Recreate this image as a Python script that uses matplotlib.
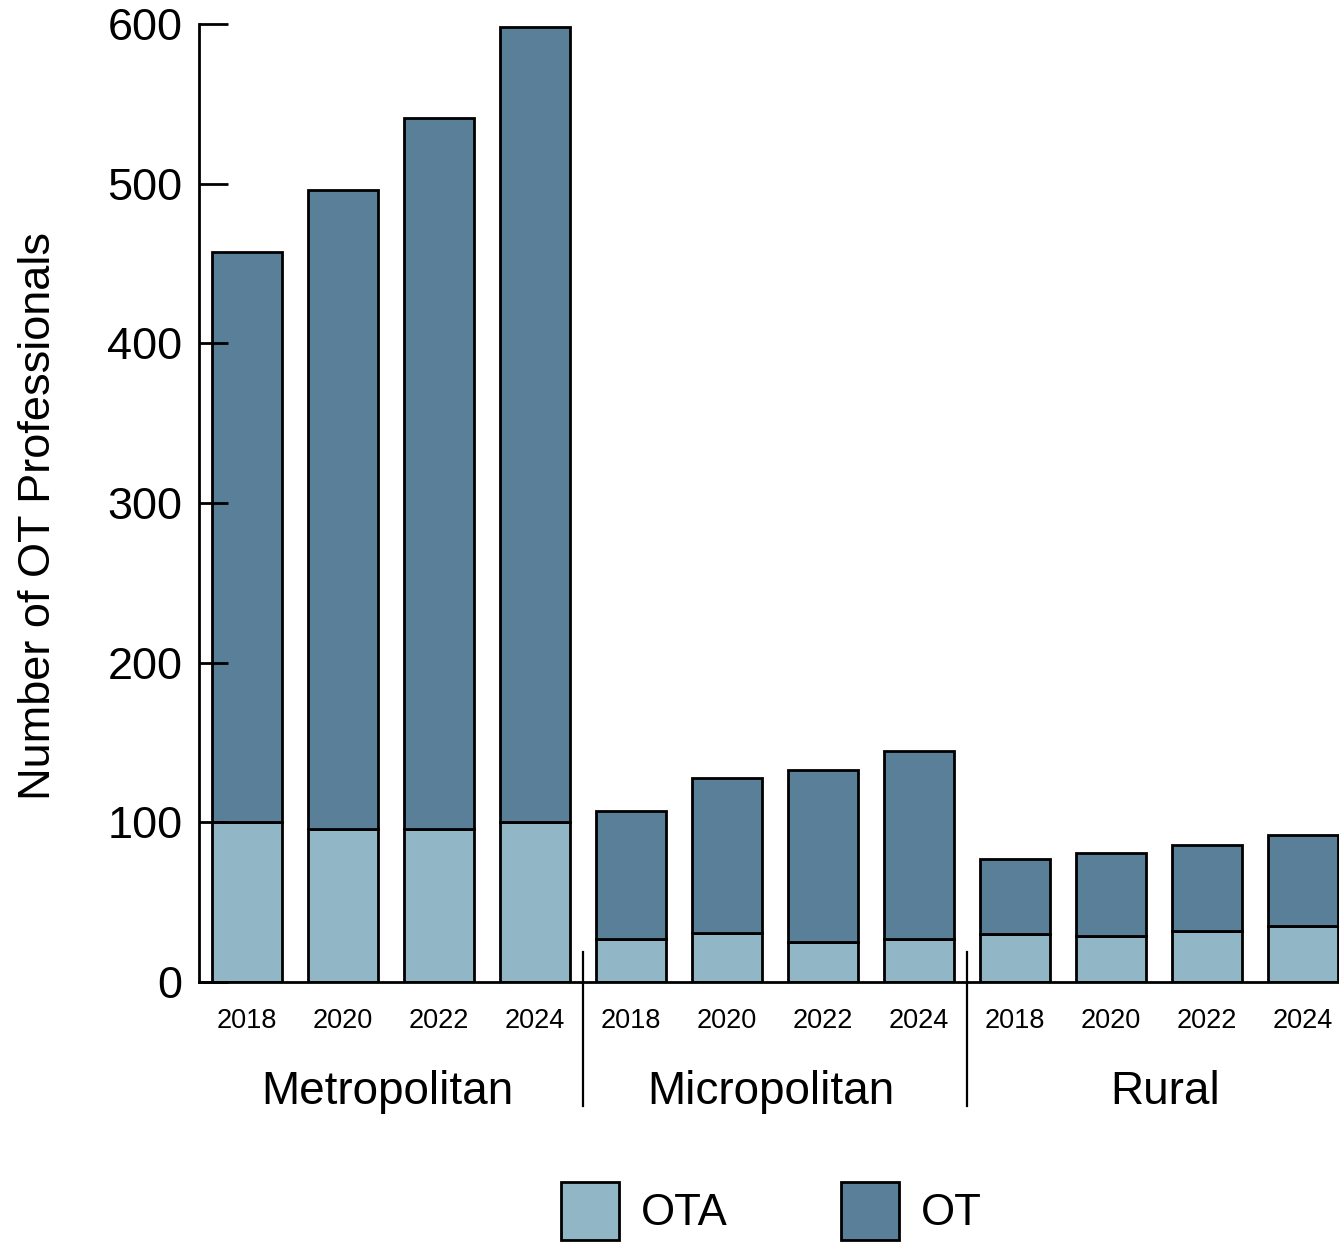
import numpy as np
import matplotlib
matplotlib.use("Agg")
import matplotlib.pyplot as plt
from matplotlib.patches import Patch

plt.rcParams['font.family'] = ['Liberation Sans', 'DejaVu Sans']

# Data
regions = ['Metropolitan', 'Micropolitan', 'Rural']
years = ['2018', '2020', '2022', '2024']
ota = [100, 96, 96, 100, 27, 31, 25, 27, 30, 29, 32, 35]
ot = [357, 400, 445, 498, 80, 97, 108, 118, 47, 52, 54, 57]

ota_color = '#91b6c6'
ot_color = '#5a7f99'

fig = plt.figure(figsize=(13.39, 12.42), dpi=100)
ax = fig.add_axes([0.1486, 0.2093, 0.8514, 0.7714])

x = np.arange(len(ota))
ax.bar(x, ota, width=0.73, color=ota_color, edgecolor='black', linewidth=2.0)
ax.bar(x, ot, width=0.73, bottom=ota, color=ot_color, edgecolor='black', linewidth=2.0)

ax.set_xlim(-0.5, 11.38)
ax.set_ylim(0, 600)
ax.set_yticks([0, 100, 200, 300, 400, 500, 600])
ax.set_xticks(x)
ax.set_xticklabels(years * len(regions))

for s in ['top', 'right']:
    ax.spines[s].set_visible(False)
for s in ['left', 'bottom']:
    ax.spines[s].set_linewidth(2.0)

ax.tick_params(axis='y', direction='in', length=21, width=2.0, labelsize=32.5, pad=12)
ax.tick_params(axis='x', length=0, labelsize=19.5, pad=19)

ax.set_ylabel('Number of OT Professionals', fontsize=32.5)
ax.yaxis.set_label_coords(-0.123, 0.486)

# group separators and group labels
trans = ax.get_xaxis_transform()
for xs in [3.5, 7.5]:
    ax.plot([xs, xs], [0.031, -0.129], transform=trans, color='black',
            linewidth=1.6, clip_on=False)
label_x = [1.46, 5.46, 9.57]
for i, name in enumerate(regions):
    ax.text(label_x[i], -0.115, name, transform=trans, ha='center', va='center',
            fontsize=33)

handles = [Patch(facecolor=ota_color, edgecolor='black', linewidth=2.0, label='OTA'),
           Patch(facecolor=ot_color, edgecolor='black', linewidth=2.0, label='OT')]
fig.legend(handles=handles, loc='center', bbox_to_anchor=(0.576, 0.025), ncol=2,
           frameon=False, fontsize=31.5, handlelength=1.33, handleheight=1.65,
           handletextpad=0.5, columnspacing=2.6)

fig.savefig('out.png', dpi=100)
